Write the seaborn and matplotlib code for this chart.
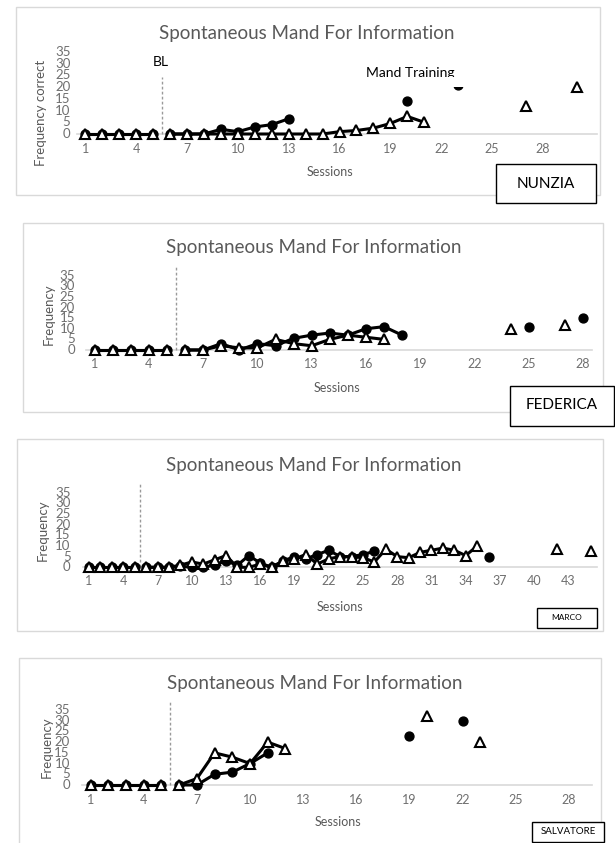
import numpy as np
import pandas as pd
import matplotlib
matplotlib.use("Agg")
import matplotlib.pyplot as plt
import seaborn as sns
from matplotlib.patches import Rectangle

# ---------------- data ----------------
TITLE = "Spontaneous Mand For Information"
X_LABEL = "Sessions"
Y_TICKS = [0, 5, 10, 15, 20, 25, 30, 35]

# NUNZIA
nunzia_circle_sessions = [1, 2, 3, 4, 5, 6, 7, 8, 9, 10, 11, 12, 13, 20, 23]
nunzia_circle_values = [0, 0, 0, 0, 0, 0, 0, 0, 2, 1, 3, 4, 6.5, 14, 21]
nunzia_circle_segment = [0, 0, 0, 0, 0, 1, 1, 1, 1, 1, 1, 1, 1, 2, 3]
nunzia_triangle_sessions = [1, 2, 3, 4, 5, 6, 7, 8, 9, 10, 11, 12, 13, 14, 15, 16, 17, 18, 19, 20, 21, 27, 30]
nunzia_triangle_values = [0, 0, 0, 0, 0, 0, 0, 0, 0, 0, 0, 0, 0, 0, 0, 1, 1.5, 2.5, 4.5, 7.5, 5, 12, 20]
nunzia_triangle_segment = [0] * 5 + [1] * 16 + [2, 3]
nunzia_xticks = [1, 4, 7, 10, 13, 16, 19, 22, 25, 28]

# FEDERICA
federica_circle_sessions = [1, 2, 3, 4, 5, 6, 7, 8, 9, 10, 11, 12, 13, 14, 15, 16, 17, 18, 25, 28]
federica_circle_values = [0, 0, 0, 0, 0, 0, 0, 3, 0, 3, 2, 5.5, 7, 8, 7, 10, 11, 7, 11, 15]
federica_circle_segment = [0] * 5 + [1] * 13 + [2, 3]
federica_triangle_sessions = [1, 2, 3, 4, 5, 6, 7, 8, 9, 10, 11, 12, 13, 14, 15, 16, 17, 24, 27]
federica_triangle_values = [0, 0, 0, 0, 0, 0, 0, 2, 1, 1, 5, 3, 2, 5, 7, 6, 5, 10, 12]
federica_triangle_segment = [0] * 5 + [1] * 12 + [2, 3]
federica_xticks = [1, 4, 7, 10, 13, 16, 19, 22, 25, 28]

# MARCO
marco_circle_sessions = [1, 2, 3, 4, 5] + list(range(6, 27)) + [36]
marco_circle_values = [0, 0, 0, 0, 0,
                       0, 0, 0, 0.5, 0, 0, 1, 3, 1, 5.5, 2, 0, 3, 5, 4, 6, 8, 5, 5, 6, 7.5,
                       5]
marco_circle_segment = [0] * 5 + [1] * 21 + [2]
marco_triangle_sessions = [1, 2, 3, 4, 5] + list(range(6, 36)) + [42, 45]
marco_triangle_values = [0, 0, 0, 0, 0,
                         0, 0, 0, 1, 2.5, 1.5, 3.5, 5.5, 0, 0, 1.5, 0, 3, 4, 6, 1.5, 4, 5, 5, 4.5,
                         2.5, 8.5, 5, 4.5, 7, 8, 9, 8, 5.5, 10,
                         8.5, 7.5]
marco_triangle_segment = [0] * 5 + [1] * 30 + [2, 3]
marco_xticks = [1, 4, 7, 10, 13, 16, 19, 22, 25, 28, 31, 34, 37, 40, 43]

# SALVATORE
salvatore_circle_sessions = [1, 2, 3, 4, 5, 6, 7, 8, 9, 10, 11, 19, 22]
salvatore_circle_values = [0, 0, 0, 0, 0, 0, 0, 5, 6, 10, 15, 23, 30]
salvatore_circle_segment = [0] * 5 + [1] * 6 + [2, 3]
salvatore_triangle_sessions = [1, 2, 3, 4, 5, 6, 7, 8, 9, 10, 11, 12, 20, 23]
salvatore_triangle_values = [0, 0, 0, 0, 0, 0, 3, 15, 13, 10, 20, 17, 32, 20]
salvatore_triangle_segment = [0] * 5 + [1] * 7 + [2, 3]
salvatore_xticks = [1, 4, 7, 10, 13, 16, 19, 22, 25, 28]

# ---------------- layout (pixels) ----------------
W, H = 615, 843
GRAY = "#595959"
TICKGRAY = "#6f6f6f"
LIGHT = "#d9d9d9"

sns.set_theme(style="white")
plt.rcParams["font.family"] = ["Lato", "DejaVu Sans"]

fig = plt.figure(figsize=(W / 100, H / 100), dpi=100)
fig.patch.set_facecolor("white")


def fx(x):
    return x / W


def fy(y):
    return 1 - y / H


def frame(x0, y0, x1, y1, color, lw=1.0, z=0):
    r = Rectangle((fx(x0), fy(y1)), (x1 - x0) / W, (y1 - y0) / H, transform=fig.transFigure,
                  facecolor="white", edgecolor=color, lw=lw, zorder=z)
    fig.add_artist(r)


panels = [
    dict(name="NUNZIA", ylabel="Frequency correct",
         c=(nunzia_circle_sessions, nunzia_circle_values, nunzia_circle_segment),
         t=(nunzia_triangle_sessions, nunzia_triangle_values, nunzia_triangle_segment),
         xticks=nunzia_xticks, xlim=(0.5, 31.2),
         ax_px=(77, 52, 597, 134), frame=(15.7, 7.3, 600, 195),
         title=(307, 33), ylab=(40.6, 113), xlab=(330, 172),
         ypad=4.7, xpad=6.5, dash_top=24.3,
         box=(496, 164, 596, 203), boxtext=(546, 184), boxfs=11),
    dict(name="FEDERICA", ylabel="Frequency",
         c=(federica_circle_sessions, federica_circle_values, federica_circle_segment),
         t=(federica_triangle_sessions, federica_triangle_values, federica_triangle_segment),
         xticks=federica_xticks, xlim=(0.5, 28.5),
         ax_px=(85.6, 275.7, 592, 350), frame=(23, 223, 603, 411.7),
         title=(313.6, 248), ylab=(48.4, 314), xlab=(337, 388),
         ypad=7.6, xpad=5.5, dash_top=39.2,
         box=(510, 386, 614, 426), boxtext=(562, 405), boxfs=11),
    dict(name="MARCO", ylabel="Frequency",
         c=(marco_circle_sessions, marco_circle_values, marco_circle_segment),
         t=(marco_triangle_sessions, marco_triangle_values, marco_triangle_segment),
         xticks=marco_xticks, xlim=(0.5, 45.5),
         ax_px=(83.3, 492.7, 597, 567.3), frame=(17, 439, 603, 631),
         title=(314, 465), ylab=(43, 530), xlab=(340, 607),
         ypad=9.1, xpad=5.5, dash_top=39.7,
         box=(537, 608, 597, 628), boxtext=(567, 618), boxfs=6),
    dict(name="SALVATORE", ylabel="Frequency",
         c=(salvatore_circle_sessions, salvatore_circle_values, salvatore_circle_segment),
         t=(salvatore_triangle_sessions, salvatore_triangle_values, salvatore_triangle_segment),
         xticks=salvatore_xticks, xlim=(0.5, 29.3),
         ax_px=(81.7, 710, 592, 785), frame=(19, 658, 601, 846),
         title=(314.4, 683), ylab=(47, 747), xlab=(338, 822),
         ypad=8.6, xpad=6.2, dash_top=38.9,
         box=(532, 822, 604, 842), boxtext=(568, 832), boxfs=7),
]

axes = []
for p in panels:
    frame(*p["frame"], color=LIGHT, lw=1.0, z=0)

for p in panels:
    x0, y0, x1, y1 = p["ax_px"]
    ax = fig.add_axes([fx(x0), fy(y1), (x1 - x0) / W, (y1 - y0) / H])
    ax.set_facecolor("none")
    ax.patch.set_alpha(0)
    axes.append(ax)

    cs, cv, cg = p["c"]
    ts, tv, tg = p["t"]
    dfc = pd.DataFrame({"Session": cs, "Frequency": cv, "seg": cg})
    dft = pd.DataFrame({"Session": ts, "Frequency": tv, "seg": tg})

    sns.lineplot(data=dfc, x="Session", y="Frequency", units="seg", estimator=None,
                 sort=True, color="black", lw=2.2, marker="o", markersize=6.4,
                 markerfacecolor="black", markeredgecolor="black", markeredgewidth=1,
                 ax=ax, zorder=3, clip_on=False, legend=False)
    sns.lineplot(data=dft, x="Session", y="Frequency", units="seg", estimator=None,
                 sort=True, color="black", lw=2.2, marker="^", markersize=7.4,
                 markerfacecolor="white", markeredgecolor="black", markeredgewidth=1.5,
                 ax=ax, zorder=4, clip_on=False, legend=False)

    ax.set_xlim(*p["xlim"])
    ax.set_ylim(0, 35)
    ax.set_xticks(p["xticks"])
    ax.set_xticklabels([str(v) for v in p["xticks"]])
    ax.set_yticks(Y_TICKS)
    ax.set_yticklabels([str(v) for v in Y_TICKS])
    ax.tick_params(axis="x", length=0, labelsize=9, colors=TICKGRAY, pad=p["xpad"])
    ax.tick_params(axis="y", length=0, labelsize=9.5, colors=TICKGRAY, pad=p["ypad"])
    for lab in ax.get_yticklabels():
        lab.set_va("center")
    ax.set_xlabel("")
    ax.set_ylabel("")
    for side in ["top", "right", "left"]:
        ax.spines[side].set_visible(False)
    ax.spines["bottom"].set_color(LIGHT)
    ax.spines["bottom"].set_linewidth(1.2)
    ax.spines["bottom"].set_zorder(1)
    ax.grid(False)

    # phase change line
    ax.plot([5.5, 5.5], [0, p["dash_top"]], color="#9a9a9a", lw=1.0,
            ls=(0, (2, 1.6)), clip_on=False, zorder=2)

    fig.text(fx(p["title"][0]), fy(p["title"][1]), TITLE, ha="center", va="center",
             fontsize=13.5, color=GRAY, fontweight="normal")
    fig.text(fx(p["ylab"][0]), fy(p["ylab"][1]), p["ylabel"], ha="center", va="center",
             rotation=90, fontsize=9.5, color=GRAY)
    fig.text(fx(p["xlab"][0]), fy(p["xlab"][1]), X_LABEL, ha="center", va="center",
             fontsize=9, color=GRAY)

    bx0, by0, bx1, by1 = p["box"]
    frame(bx0, by0, bx1, by1, color="black", lw=1.0, z=10)
    fig.text(fx(p["boxtext"][0]), fy(p["boxtext"][1]), p["name"], ha="center", va="center",
             fontsize=p["boxfs"], color="black", zorder=11)

# annotations on the first panel
ax1 = axes[0]
ax1.text(5.45, 30.6, "BL", ha="center", va="center", fontsize=10, color="black", zorder=6)
ax1.text(20.2, 26.2, "Mand Training", ha="center", va="center", fontsize=10, color="black",
         zorder=6, bbox=dict(facecolor="white", edgecolor="none", pad=1.5))
# white cover that clips the bottom of the text box (hides top of marker & descender)
fig.add_artist(Rectangle((fx(352), fy(87)), (472 - 352) / W, (87 - 77.5) / H,
                         transform=fig.transFigure, facecolor="white", edgecolor="none",
                         zorder=7))

fig.savefig("out.png", dpi=100, facecolor="white")
